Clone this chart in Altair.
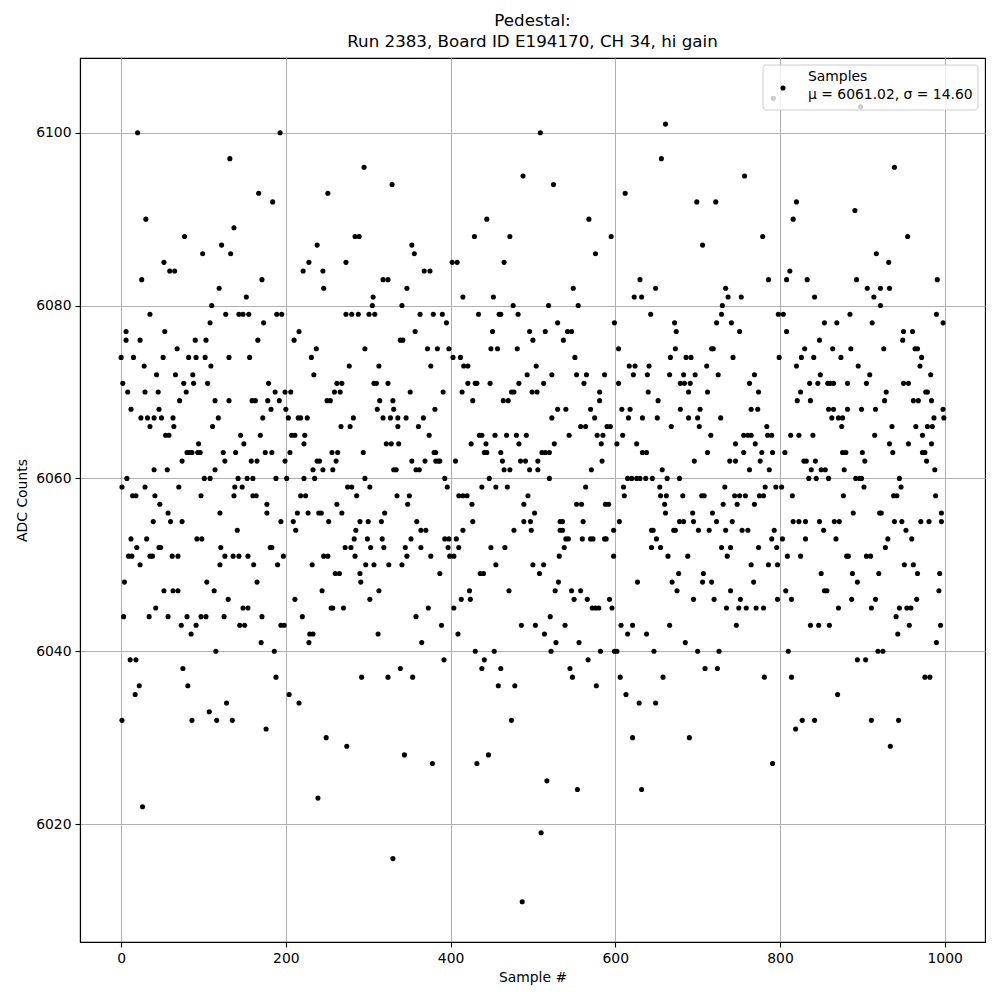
import altair as alt
import pandas as pd

# ADC value (integer counts) and the sample numbers at that value
adc_levels = [6104, 6103, 6101, 6100, 6097, 6096, 6095, 6094, 6093, 6092, 6091, 6090, 6089, 6088,
              6087, 6086, 6085, 6084, 6083, 6082, 6081, 6080, 6079, 6078, 6077, 6076, 6075, 6074,
              6073, 6072, 6071, 6070, 6069, 6068, 6067, 6066, 6065, 6064, 6063, 6062, 6061, 6060,
              6059, 6058, 6057, 6056, 6055, 6054, 6053, 6052, 6051, 6050, 6049, 6048, 6047, 6046,
              6045, 6044, 6043, 6042, 6041, 6040, 6039, 6038, 6037, 6036, 6035, 6034, 6033, 6032,
              6031, 6030, 6029, 6028, 6027, 6025, 6024, 6023, 6022, 6019, 6016, 6011]

samples_per_level = [
    [792], [898], [661], [20, 193, 509], [132, 656], [295, 939], [488, 757], [329, 525],
    [167, 251, 612], [184, 699, 722, 820], [891], [30, 444, 568, 816], [137],
    [77, 284, 289, 429, 472, 595, 779, 955],
    [122, 238, 353, 706], [99, 133, 356, 576, 917], [52, 228, 273, 402, 408, 465, 932],
    [59, 65, 221, 245, 368, 375, 812],
    [25, 171, 318, 324, 630, 786, 808, 833, 893, 991],
    [119, 246, 347, 549, 649, 734, 906, 922, 933],
    [152, 306, 415, 452, 623, 632, 737, 753, 842, 914],
    [110, 305, 341, 476, 519, 555, 730, 922],
    [35, 127, 143, 148, 155, 189, 195, 273, 280, 288, 301, 308, 363, 379, 390, 434, 459, 461, 482,
     643, 729, 798, 804, 885, 990],
    [108, 173, 395, 530, 599, 672, 723, 741, 854, 869, 912, 998],
    [6, 53, 216, 357, 451, 496, 515, 542, 547, 674, 751, 808, 950, 961],
    [6, 23, 90, 103, 166, 210, 339, 342, 500, 537, 848, 949],
    [68, 237, 296, 372, 384, 398, 449, 457, 481, 604, 673, 717, 719, 830, 864, 886, 926, 964, 967],
    [0, 15, 51, 82, 91, 102, 131, 156, 231, 403, 412, 551, 667, 686, 692, 743, 799, 826, 841, 874, 972],
    [28, 109, 277, 313, 376, 416, 421, 504, 617, 624, 641, 711, 820, 895, 970],
    [43, 66, 87, 234, 493, 523, 553, 565, 587, 622, 639, 666, 683, 697, 725, 769, 849, 909, 983],
    [2, 76, 88, 105, 179, 262, 268, 307, 310, 324, 421, 430, 432, 448, 483, 513, 562, 604, 679, 684,
     691, 763, 836, 846, 858, 861, 865, 882, 905, 950, 956],
    [8, 29, 45, 79, 187, 199, 206, 259, 266, 351, 391, 414, 474, 477, 499, 505, 581, 640, 689, 712,
     774, 825, 929, 977, 979],
    [71, 114, 131, 159, 163, 178, 192, 250, 254, 314, 330, 427, 464, 470, 581, 652, 821, 837, 927,
     962, 968, 984],
    [12, 46, 182, 200, 311, 331, 381, 530, 540, 570, 608, 618, 679, 703, 765, 773, 859, 865, 882,
     899, 916, 998],
    [24, 32, 40, 49, 63, 118, 172, 203, 215, 218, 226, 282, 318, 327, 336, 346, 367, 523, 575, 616,
     633, 651, 689, 700, 728, 863, 871, 876, 987, 999],
    [35, 64, 111, 267, 278, 336, 361, 558, 564, 590, 594, 668, 702, 784, 875, 936, 965, 979, 985],
    [54, 58, 145, 169, 207, 211, 223, 374, 435, 438, 454, 468, 480, 492, 544, 578, 585, 609, 716,
     756, 761, 765, 785, 790, 813, 823, 840, 915, 973],
    [94, 149, 222, 322, 328, 337, 425, 443, 483, 526, 583, 602, 626, 746, 770, 933, 956, 984],
    [80, 83, 86, 93, 96, 124, 139, 175, 183, 205, 256, 263, 294, 380, 382, 441, 444, 461, 511, 515,
     520, 633, 638, 712, 756, 778, 791, 806, 876, 880, 900, 937, 973, 976],
    [74, 126, 158, 165, 199, 238, 241, 261, 353, 369, 382, 385, 387, 406, 463, 485, 491, 506, 584,
     696, 739, 746, 776, 829, 832, 843, 903, 978],
    [40, 56, 114, 233, 245, 257, 331, 334, 358, 362, 465, 472, 496, 506, 571, 657, 763, 787, 838,
     850, 855, 878, 988],
    [7, 101, 108, 142, 153, 160, 188, 201, 222, 235, 296, 393, 447, 520, 615, 620, 626, 630, 637,
     645, 663, 678, 835, 844, 859, 892, 897, 899, 945],
    [1, 29, 70, 138, 147, 275, 280, 302, 396, 438, 455, 469, 564, 610, 654, 733, 782, 795, 802, 902,
     947],
    [14, 18, 41, 97, 137, 160, 164, 218, 224, 286, 335, 350, 410, 415, 420, 494, 611, 655, 662, 682,
     705, 708, 745, 751, 758, 775, 780, 815, 877, 938, 942, 989],
    [47, 177, 262, 348, 426, 489, 553, 559, 588, 592, 660, 731, 748, 769],
    [57, 120, 177, 214, 227, 240, 243, 268, 320, 502, 661, 694, 718, 889, 921, 923, 996],
    [39, 60, 74, 194, 209, 252, 290, 300, 316, 359, 427, 489, 497, 533, 536, 561, 605, 678, 683,
     695, 723, 742, 816, 823, 831, 848, 866, 872, 939, 948, 971, 981, 996],
    [141, 212, 285, 364, 370, 415, 477, 498, 533, 536, 598, 644, 646, 671, 673, 701, 714, 734, 754,
     761, 793, 853, 953],
    [12, 31, 92, 98, 283, 299, 317, 352, 393, 398, 407, 540, 543, 560, 570, 573, 587, 589, 650, 790,
     803, 831, 868, 931, 960],
    [19, 46, 48, 121, 181, 183, 272, 279, 303, 319, 345, 364, 397, 410, 449, 466, 538, 644, 655, 729,
     740, 774, 796, 928],
    [9, 13, 35, 38, 62, 69, 126, 136, 143, 154, 197, 246, 251, 284, 347, 376, 399, 404, 532, 598,
     664, 688, 736, 809, 825, 881, 883, 905, 910],
    [23, 120, 161, 190, 232, 297, 307, 325, 341, 455, 500, 513, 765, 786, 797, 951, 962],
    [260, 265, 290, 387, 436, 440, 508, 677, 707, 850, 888, 920, 967, 994],
    [4, 104, 165, 291, 531, 627, 669, 706, 717, 768, 894],
    [52, 63, 69, 113, 244, 313, 423, 471, 527, 547, 558, 675, 740, 807, 854, 857, 993],
    [130, 211, 302, 413, 424, 550, 566, 593, 695, 720, 752, 797, 814, 887, 916, 966],
    [42, 148, 154, 255, 257, 270, 373, 404, 572, 576, 580, 596, 735, 750, 759, 771, 780, 871, 911,
     945, 954, 959],
    [3, 34, 57, 80, 97, 103, 125, 171, 220, 358, 521, 941],
    [73, 91, 144, 150, 194, 198, 389, 486, 503, 539, 607, 621, 666, 747, 837, 847, 860, 957, 995],
    [85, 229, 233, 312, 409, 514, 615, 638, 943],
    [170, 228, 365, 528, 556, 685, 990],
    [115, 186, 430, 453, 522, 582, 599, 602, 647, 700, 726, 810, 919, 925],
    [11, 18, 392, 441, 567, 894, 904],
    [75, 339, 438, 461, 545, 709, 724],
    [188, 292, 324, 354, 548, 606, 658, 781, 814, 976, 982],
    [22, 81, 458, 478, 577],
    [17, 204, 613, 870],
    [128, 216, 629, 649],
    [107],
    [1, 86, 116, 135, 474, 827, 842, 911, 944],
    [176, 819],
    [249, 621, 690],
    [274, 934],
    [344, 446],
    [378, 432, 791],
    [517],
    [554, 632],
    [239],
    [26],
    [510],
    [330],
    [487],
]

title_lines = ["Pedestal:", "Run 2383, Board ID E194170, CH 34, hi gain"]
legend_lines = ["Samples", "μ = 6061.02, σ = 14.60"]
x_ticks = [0, 200, 400, 600, 800, 1000]
y_ticks = [6020, 6040, 6060, 6080, 6100]

sample_num = []
adc_counts = []
for lvl, xs in zip(adc_levels, samples_per_level):
    for s in xs:
        sample_num.append(s)
        adc_counts.append(lvl)

df = pd.DataFrame({"sample": sample_num, "adc": adc_counts})

FONT = "DejaVu Sans"
W, H = 905, 884

points = alt.Chart(df).mark_circle(size=26, color="black", opacity=1).encode(
    x=alt.X("sample:Q",
            scale=alt.Scale(domain=[-49.95, 1048.95], nice=False, zero=False),
            axis=alt.Axis(values=x_ticks, title="Sample #", format="d")),
    y=alt.Y("adc:Q",
            scale=alt.Scale(domain=[6006.35, 6108.65], nice=False, zero=False),
            axis=alt.Axis(values=y_ticks, title="ADC Counts", format="d")),
)

one = pd.DataFrame({"k": [0]})

legend_box = alt.Chart(one).mark_rect(
    fill="white", fillOpacity=0.8, stroke="#cccccc", strokeWidth=1, cornerRadius=3
).encode(
    x=alt.value(683), x2=alt.value(898), y=alt.value(7), y2=alt.value(52)
)

legend_marker = alt.Chart(one).mark_circle(size=26, color="black", opacity=1).encode(
    x=alt.value(703), y=alt.value(30)
)

legend_text1 = alt.Chart(one).mark_text(
    text=legend_lines[0], align="left", baseline="middle", font=FONT, fontSize=13.9, color="black"
).encode(x=alt.value(728), y=alt.value(19))

legend_text2 = alt.Chart(one).mark_text(
    text=legend_lines[1], align="left", baseline="middle", font=FONT, fontSize=13.9, color="black"
).encode(x=alt.value(728), y=alt.value(37))

chart = alt.layer(points, legend_box, legend_marker, legend_text1, legend_text2).properties(
    width=W, height=H,
    title=alt.TitleParams(title_lines, font=FONT, fontSize=16.7, fontWeight="normal",
                          anchor="middle", color="black", offset=7, lineHeight=21),
    autosize=alt.AutoSizeParams(type="none"),
    padding={"left": 72, "top": 50, "right": 7, "bottom": 50},
    background="white",
).configure_view(
    stroke="black", strokeWidth=1.1
).configure_axis(
    grid=True, gridColor="#b0b0b0", gridWidth=1,
    domainColor="black", domainWidth=1.1,
    tickColor="black", tickSize=5, tickWidth=1.1,
    labelFont=FONT, labelFontSize=13.9, labelColor="black", labelPadding=4,
    titleFont=FONT, titleFontSize=13.9, titleFontWeight="normal", titleColor="black",
    titlePadding=6,
)

chart.save("out.html", embed_options={"renderer": "svg", "actions": False})
